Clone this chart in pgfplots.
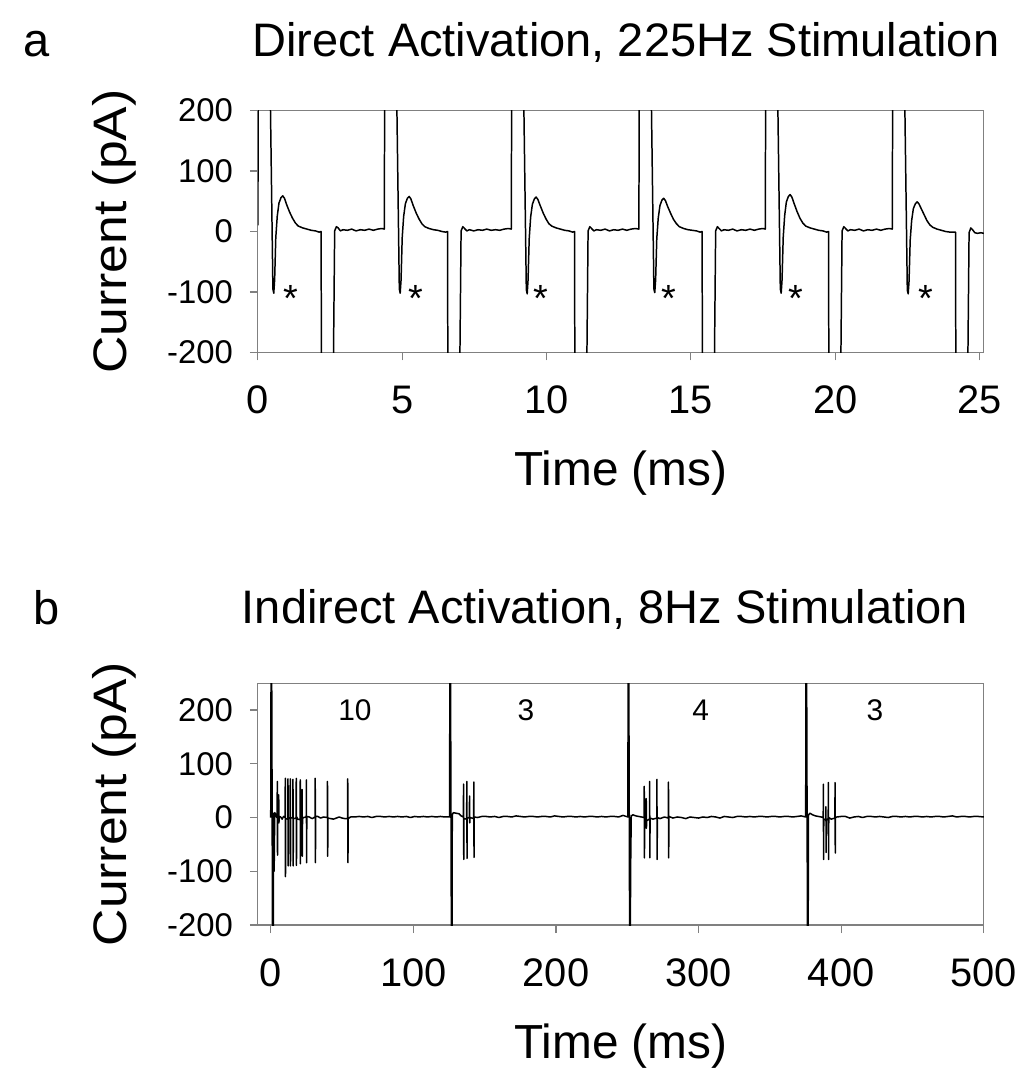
\documentclass[border=0pt]{standalone}
\usepackage{pgfplots}
\pgfplotsset{compat=1.18}
\usepackage{fontspec}
\setmainfont{Liberation Sans}

\pgfplotsset{
  trace/.style={
    scale only axis, width=364.5pt, height=121.5pt,
    axis line style={gray, line width=0.6pt},
    tick style={gray, line width=0.6pt},
    tick align=outside, major tick length=4pt,
    tick pos=left,
    tick label style={black},
    xticklabel style={font=\fontsize{20}{23}\selectfont, text height=14.3pt, yshift=-9pt},
    yticklabel style={font=\fontsize{16.5}{19}\selectfont, xshift=-5pt},
    /pgf/number format/assume math mode=true,
    every axis x label/.style={at={(axis description cs:0.5,-0.5514)}, anchor=base,
      font=\fontsize{24}{28}\selectfont},
    every axis y label/.style={at={(axis description cs:-0.1811,0.5)}, rotate=90, anchor=base,
      font=\fontsize{23.6}{28}\selectfont},
    xlabel={Time (ms)}, ylabel={\scalebox{1.1}[1]{Current (pA)}},
  },
}
\tikzset{
  star/.style={anchor=base, font=\fontsize{19}{22}\selectfont},
  count/.style={font=\fontsize{15}{18}\selectfont},
}

\begin{document}
\begin{tikzpicture}
\path (-129.5pt,-360.5pt) rectangle (384pt,177pt);
\node[anchor=base west, font=\fontsize{23.6}{28}\selectfont] at (-121pt,148.5pt) {a};
\node[anchor=base, font=\fontsize{23.6}{28}\selectfont] at (184.75pt,148.5pt) {Direct Activation, 225Hz Stimulation};
\node[anchor=base west, font=\fontsize{23.6}{28}\selectfont] at (-116pt,-136.5pt) {b};
\node[anchor=base, font=\fontsize{23.6}{28}\selectfont] at (174.25pt,-136pt) {Indirect Activation, 8Hz Stimulation};

% panel a: direct activation
\begin{axis}[trace, at={(0,0)}, anchor=south west,
    xmin=0, xmax=25.15, ymin=-200, ymax=200,
    xtick={0,5,10,15,20,25}, ytick={-200,-100,0,100,200}]
\addplot[black, line width=0.75pt, line join=round] table {
0.00 10
0.02 400
0.38 400
0.52 -95
0.55 -102
0.58 -80
0.62 -10
0.67 25
0.73 47
0.80 56
0.86 59
0.92 55
1.00 44
1.10 32
1.20 22
1.30 14
1.40 9
1.55 6
1.70 4
1.85 2
2.00 1
2.12 -1
2.19 0
2.21 -400
2.58 -400
2.66 1
2.72 8
2.78 6
2.86 1
2.95 3
3.10 2
3.25 4
3.40 1
3.55 3
3.70 2
3.85 4
4.00 2
4.15 4
4.30 5
4.38 4
4.40 400
4.76 400
4.90 -95
4.93 -102
4.96 -80
5.00 -10
5.05 25
5.11 46
5.18 55
5.24 58
5.30 54
5.38 43
5.48 31
5.58 21
5.68 13
5.78 8
5.93 5
6.08 3
6.23 2
6.38 0
6.50 -1
6.57 0
6.59 -400
6.96 -400
7.04 1
7.10 8
7.16 5
7.24 1
7.33 3
7.48 1
7.63 3
7.78 2
7.93 4
8.08 2
8.23 3
8.38 2
8.53 4
8.68 5
8.78 4
8.80 400
9.16 400
9.30 -96
9.33 -103
9.36 -80
9.40 -12
9.45 24
9.51 45
9.58 54
9.64 57
9.70 53
9.78 43
9.88 31
9.98 21
10.08 13
10.18 9
10.33 6
10.48 4
10.63 2
10.78 1
10.90 -1
10.97 0
10.99 -400
11.36 -400
11.44 1
11.50 8
11.56 5
11.64 1
11.73 3
11.88 2
12.03 4
12.18 1
12.33 3
12.48 2
12.63 4
12.78 2
12.93 4
13.08 5
13.20 4
13.22 400
13.58 400
13.72 -95
13.75 -101
13.78 -80
13.82 -12
13.87 22
13.93 43
14.00 52
14.06 55
14.12 51
14.20 41
14.30 30
14.40 20
14.50 13
14.60 8
14.75 5
14.90 3
15.05 2
15.20 1
15.32 -1
15.39 0
15.41 -400
15.78 -400
15.86 1
15.92 8
15.98 5
16.06 1
16.15 3
16.30 2
16.45 4
16.60 1
16.75 3
16.90 2
17.05 4
17.20 2
17.35 4
17.50 5
17.58 4
17.60 400
17.96 400
18.10 -95
18.13 -102
18.16 -80
18.20 -10
18.25 26
18.31 49
18.38 58
18.44 61
18.50 57
18.58 46
18.68 33
18.78 22
18.88 14
18.98 9
19.13 6
19.28 4
19.43 2
19.58 1
19.70 -1
19.77 0
19.79 -400
20.16 -400
20.24 1
20.30 8
20.36 5
20.44 1
20.53 3
20.68 2
20.83 4
20.98 1
21.13 3
21.28 2
21.43 4
21.58 2
21.73 4
21.88 5
21.98 4
22.00 400
22.36 400
22.50 -97
22.53 -103
22.56 -82
22.60 -14
22.65 18
22.71 38
22.78 46
22.84 49
22.90 46
22.98 38
23.08 28
23.18 18
23.28 11
23.38 7
23.53 4
23.68 2
23.83 0
23.98 -1
24.10 -1
24.17 -1
24.19 -400
24.56 -400
24.64 -2
24.70 6
24.76 3
24.84 -2
24.93 -3
25.05 -2
25.15 -3
};
\node[star] at (axis cs:1.14,-133) {*};
\node[star] at (axis cs:5.48,-133) {*};
\node[star] at (axis cs:9.80,-133) {*};
\node[star] at (axis cs:14.25,-133) {*};
\node[star] at (axis cs:18.65,-133) {*};
\node[star] at (axis cs:23.14,-133) {*};
\end{axis}

% panel b: indirect activation
\begin{axis}[trace, at={(0,-287.5pt)}, anchor=south west,
    xmin=-9, xmax=500, ymin=-200, ymax=250,
    xtick={0,100,200,300,400,500}, ytick={-200,-100,0,100,200}]
\addplot[black, line width=0.75pt, line join=round] table {
0.0 0
0.4 500
1.6 -500
2.0 8
2.4 -100
2.8 9
3.5 6
4.2 0
4.5 2
4.6 67
4.75 -70
4.9 3
5.5 2
5.6 42
5.75 -10
6.0 2
7.0 1
8.0 -3
9.0 2
10.1 0
10.2 73
10.35 -110
10.5 -2
12.0 -3
12.1 72
12.25 -90
12.4 0
13.6 -2
13.7 72
13.85 -90
14.0 -1
15.5 0
15.6 71
15.75 -90
15.9 -2
17.8 -1
17.9 73
18.05 -89
18.2 1
19.0 -3
20.6 -4
20.7 70
20.85 -86
21.0 -2
21.9 -3
22.0 52
22.15 -72
22.3 -2
23.0 0
24.9 1
25.0 70
25.15 -84
25.3 2
27.0 1
29.0 -2
31.1 1
31.2 73
31.35 -84
31.5 2
33.0 2
35.0 -1
37.0 1
39.7 0
39.8 67
39.95 -72
40.1 -1
42.0 -2
44.0 -3
46.0 -1
48.0 1
50.0 -1
52.0 -2
53.9 -2
54.0 72
54.15 -84
54.3 -2
56 1
59 1
62 2
65 1
68 2
71 0
74 2
77 2
80 1
83 2
86 1
89 2
92 1
95 2
98 0
101 2
104 1
107 2
110 1
113 2
116 1
119 2
122 1
125.4 1
125.8 500
127.0 -500
127.3 5
128 9
130 8
132 7
133.5 3
135.1 1
135.2 62
135.35 -78
135.5 -2
137.4 -3
137.5 67
137.65 -76
137.8 -1
139.3 0
139.4 40
139.55 -10
139.7 0
142.3 -2
142.4 66
142.55 -74
142.7 1
145 0
148 2
151 2
154 1
157 2
160 0
163 2
166 2
169 1
172 3
175 2
178 1
181 2
184 2
187 1
190 2
193 2
196 1
199 3
202 2
205 1
208 2
211 2
214 1
217 2
220 1
223 2
226 2
229 1
232 2
235 1
238 2
241 2
244 1
247 4
250.4 1
250.8 500
252.0 -500
252.3 -108
252.8 3
254 5
256 3
258 2
260 1
261.8 0
261.9 58
262.05 -75
262.2 -2
263.2 -1
263.3 35
263.45 -20
263.6 -6
265.6 -3
265.7 67
265.85 -75
266.0 -1
268 -3
270.7 -1
270.8 71
270.95 -78
271.1 0
273 -2
276 1
278.8 -1
278.9 66
279.05 -75
279.2 2
282 -1
285 1
288 0
291 -2
294 1
297 0
300 -1
303 1
306 0
309 2
312 1
315 -1
318 2
321 1
324 0
327 2
330 2
333 1
336 2
339 1
342 2
345 2
348 1
351 2
354 2
357 1
360 2
363 2
366 1
369 2
372 3
375.1 1
375.5 500
376.7 -500
377 4
378 8
380 5
382 3
384 2
386 1
387.4 0
387.5 62
387.65 -78
387.8 -3
389.2 -4
389.3 20
389.45 -65
389.6 -5
390.9 -2
391.0 65
391.15 -78
391.3 0
393 -3
395.6 -1
395.7 65
395.85 -66
396.0 0
397 1
400 2
403 2
406 -1
409 1
412 2
415 0
418 2
421 2
424 1
427 2
430 1
433 0
436 2
439 2
442 1
445 2
448 1
451 2
454 2
457 1
460 2
463 1
466 2
469 2
472 1
475 2
478 3
481 1
484 2
487 2
490 1
493 2
496 2
500 1
};
\node[count] at (axis cs:59,200) {10};
\node[count] at (axis cs:179,200) {3};
\node[count] at (axis cs:301.5,200) {4};
\node[count] at (axis cs:423.7,200) {3};
\end{axis}
\end{tikzpicture}
\end{document}
